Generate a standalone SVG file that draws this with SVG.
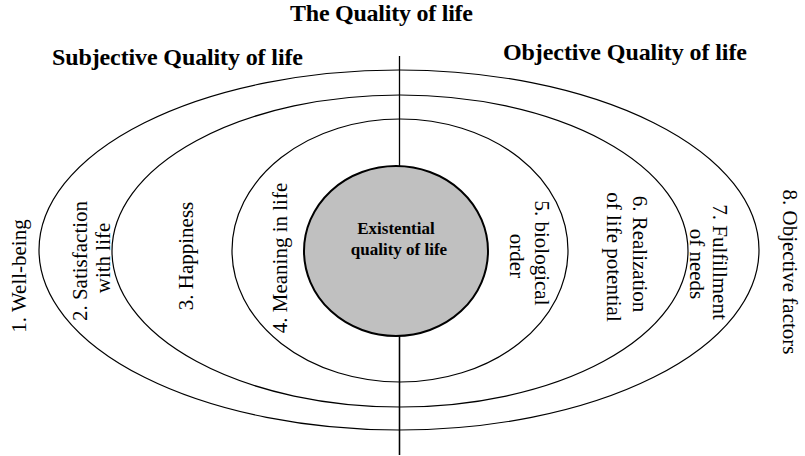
<svg xmlns="http://www.w3.org/2000/svg" width="805" height="456" viewBox="0 0 805 456">
<style>
.ring{fill:none;stroke:#000;stroke-width:1.2}
.core{fill:#c0c0c0;stroke:#000;stroke-width:2}
.hd{font-family:"Liberation Serif","Times New Roman",serif;font-weight:bold;font-size:24px;fill:#000}
.lb{font-family:"Liberation Serif","Times New Roman",serif;font-size:21px;fill:#000;text-anchor:middle}
.ct{font-family:"Liberation Serif","Times New Roman",serif;font-weight:bold;font-size:17px;fill:#000;text-anchor:middle}
</style>
<rect width="805" height="456" fill="#fff"/>
<g id="titles">
<text class="hd" x="290" y="21" textLength="183">The Quality of life</text>
<text class="hd" x="52" y="65" textLength="251">Subjective Quality of life</text>
<text class="hd" x="503" y="60" textLength="244">Objective Quality of life</text>
</g>
<g id="connectors">
<line x1="399.5" y1="56" x2="399.5" y2="455" stroke="#000" stroke-width="1.3"/>
</g>
<g id="ring1"><ellipse class="ring" cx="399" cy="250" rx="360" ry="180"/></g>
<g id="ring2"><ellipse class="ring" cx="400" cy="251" rx="288" ry="156"/></g>
<g id="ring3"><ellipse class="ring" cx="400" cy="250.5" rx="168" ry="131.5"/></g>
<g id="core">
<ellipse class="core" cx="396" cy="251" rx="92" ry="85"/>
<line x1="399.5" y1="336" x2="399.5" y2="455" stroke="#000" stroke-width="1.3"/>
<text class="ct" x="396" y="234">Existential</text>
<text class="ct" x="399" y="255">quality of life</text>
</g>
<g id="label1"><text class="lb" transform="translate(26,276) rotate(-90)">1. Well-being</text></g>
<g id="label2">
<text class="lb" transform="translate(87,261) rotate(-90)">2. Satisfaction</text>
<text class="lb" transform="translate(110,258) rotate(-90)">with life</text>
</g>
<g id="label3"><text class="lb" transform="translate(193,256) rotate(-90)">3. Happiness</text></g>
<g id="label4"><text class="lb" transform="translate(287,258) rotate(-90)">4. Meaning in life</text></g>
<g id="label5">
<text class="lb" transform="translate(535,253) rotate(90)">5. biological</text>
<text class="lb" transform="translate(510,256) rotate(90)">order</text>
</g>
<g id="label6">
<text class="lb" transform="translate(633,254) rotate(90)">6. Realization</text>
<text class="lb" transform="translate(607,257) rotate(90)">of life potential</text>
</g>
<g id="label7">
<text class="lb" transform="translate(713,262) rotate(90)">7. Fulfillment</text>
<text class="lb" transform="translate(690,264) rotate(90)">of needs</text>
</g>
<g id="label8"><text class="lb" transform="translate(783,272) rotate(90)">8. Objective factors</text></g>
</svg>
